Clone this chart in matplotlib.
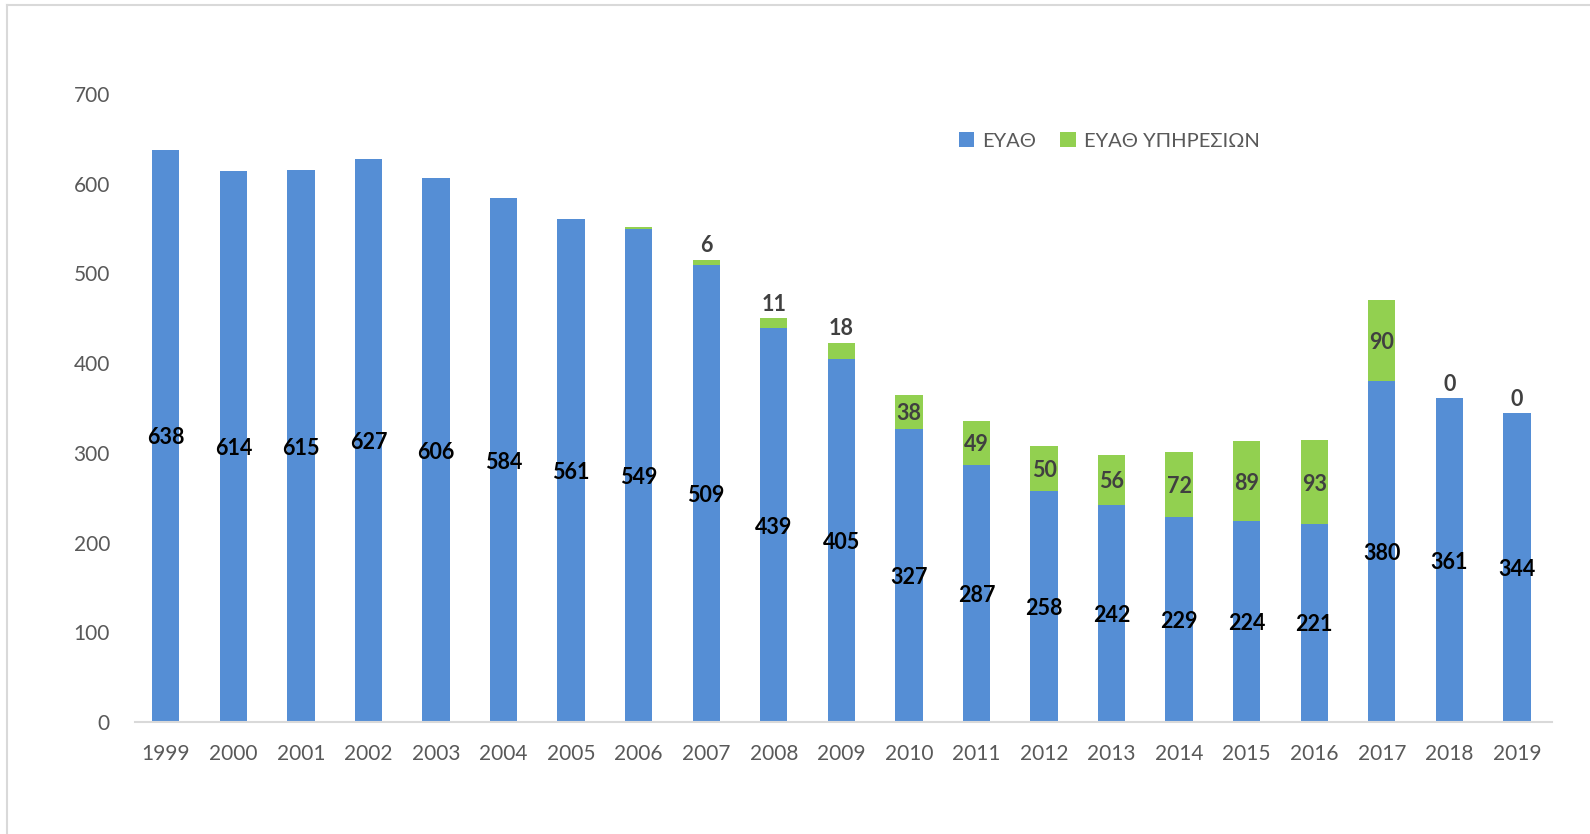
import matplotlib
matplotlib.use("Agg")
import matplotlib.pyplot as plt
from matplotlib.lines import Line2D
import numpy as np

plt.rcParams['font.family'] = ['Lato', 'Noto Sans', 'DejaVu Sans']

years = ['1999', '2000', '2001', '2002', '2003', '2004', '2005', '2006', '2007', '2008',
         '2009', '2010', '2011', '2012', '2013', '2014', '2015', '2016', '2017', '2018', '2019']
eyath = [638, 614, 615, 627, 606, 584, 561, 549, 509, 439,
         405, 327, 287, 258, 242, 229, 224, 221, 380, 361, 344]
eyath_yp = [0, 0, 0, 0, 0, 0, 0, 3, 6, 11,
            18, 38, 49, 50, 56, 72, 89, 93, 90, 0, 0]
# how each green value is labelled (None = no label; 'above' = above the bar; 'in' = inside)
green_label_mode = [None] * 7 + [None, 'above', 'above', 'above'] + ['in'] * 8 + ['above', 'above']

blue = '#558ED5'
green = '#92D050'

fig = plt.figure(figsize=(15.9, 8.34), dpi=100)
ax = fig.add_axes([135 / 1590, 1 - 722 / 834, (1552 - 135) / 1590, (722 - 94) / 834])

x = np.arange(len(years))
w = 0.405
ax.bar(x, eyath, width=w, color=blue, label='ΕΥΑΘ', zorder=2)
ax.bar(x, eyath_yp, width=w, bottom=eyath, color=green, label='ΕΥΑΘ ΥΠΗΡΕΣΙΩΝ', zorder=2)

ax.set_xlim(-0.456, len(years) - 1 + 0.52)
ax.set_ylim(0, 700)
ax.set_yticks(range(0, 701, 100))
ax.set_xticks(x)
ax.set_xticklabels(years)
for s in ['left', 'right', 'top']:
    ax.spines[s].set_visible(False)
ax.spines['bottom'].set_color('#D9D9D9')
ax.spines['bottom'].set_linewidth(1.5)
ax.tick_params(axis='both', length=0, labelsize=15, colors='#595959')
ax.tick_params(axis='y', pad=18)
ax.tick_params(axis='x', pad=16)

for i in range(len(years)):
    ax.text(x[i], eyath[i] / 2, str(eyath[i]), ha='center', va='center_baseline',
            fontsize=15.5, fontweight='bold', color='black', zorder=3)
    mode = green_label_mode[i]
    if mode == 'in':
        ax.text(x[i], eyath[i] + eyath_yp[i] / 2, str(eyath_yp[i]), ha='center', va='center_baseline',
                fontsize=15.5, fontweight='bold', color='#404040', zorder=3)
    elif mode == 'above':
        ax.text(x[i], eyath[i] + eyath_yp[i] + 4, str(eyath_yp[i]), ha='center', va='bottom',
                fontsize=15.5, fontweight='bold', color='#404040', zorder=3)

leg = ax.legend(loc='upper left',
                bbox_to_anchor=((941 - 135) / (1552 - 135), 1.0 - (114 - 94) / (722 - 94)),
                ncol=2, frameon=False, fontsize=14.5, handlelength=0.75, handleheight=0.75,
                handletextpad=0.4, columnspacing=1.2, labelcolor='#595959')

# figure frame (top and left edges visible)
fig.add_artist(Line2D([7 / 1590, 1.0], [1 - 5 / 834, 1 - 5 / 834], transform=fig.transFigure,
                      color='#D9D9D9', linewidth=1.5))
fig.add_artist(Line2D([7 / 1590, 7 / 1590], [0, 1 - 5 / 834], transform=fig.transFigure,
                      color='#D9D9D9', linewidth=1.5))

fig.savefig('out.png', dpi=100)
